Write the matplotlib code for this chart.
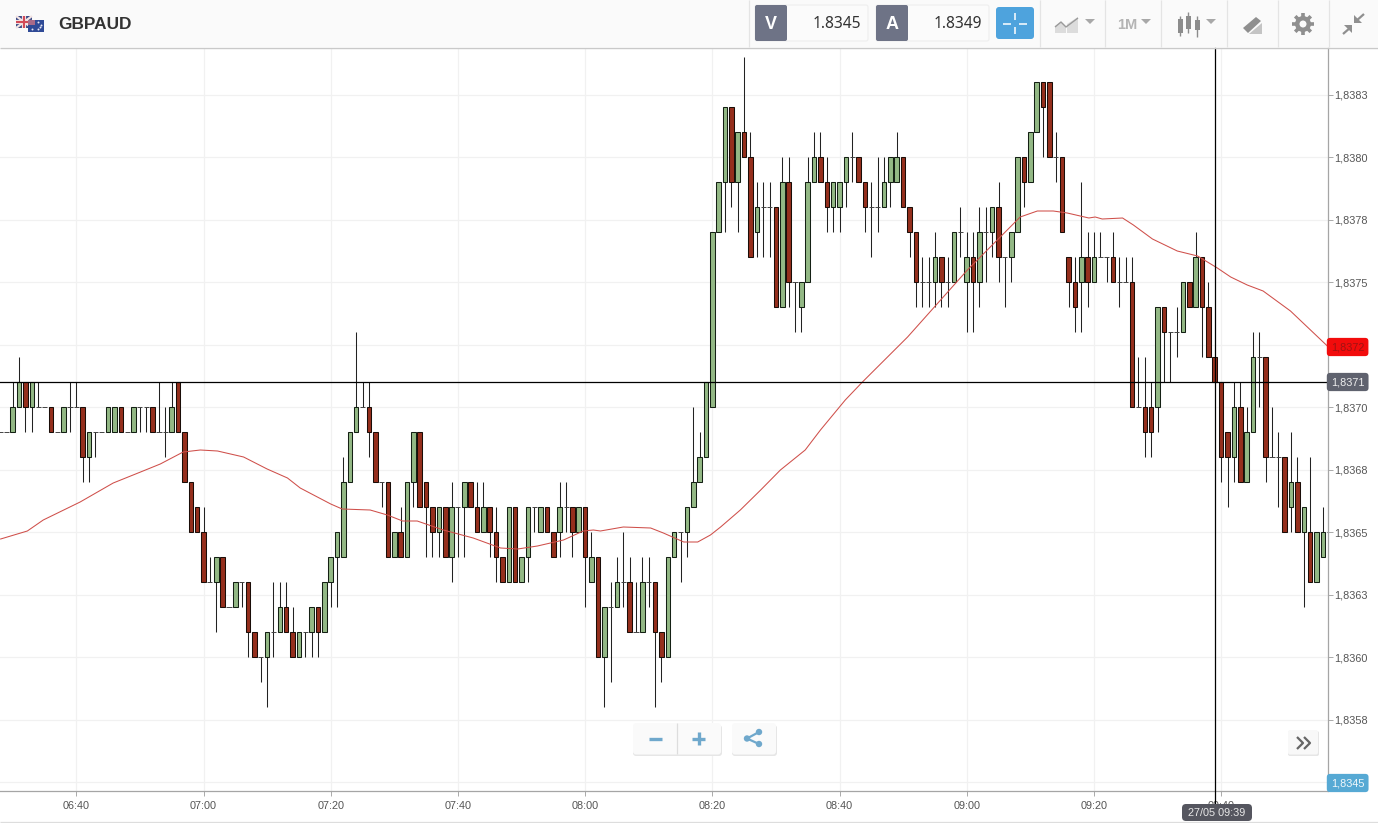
import numpy as np
import matplotlib
matplotlib.use('Agg')
import matplotlib.pyplot as plt
from matplotlib.patches import Rectangle, FancyBboxPatch, Circle, Polygon

# last two digits of the price (1.83xx), one candle per minute, first one at 06:28
first_minute = -2
opens = [69,69,69,70,71,70,70,70,70,69, 69,70,70,70,68,69,69,69,69,70,
         69,69,70,70,70,69,69,69,71,69, 67,66,65,63,63,64,62,62,63,63,
         61,60,60,61,61,62,61,60,61,61, 62,61,63,64,64,67,69,70,70,69,
         67,67,64,65,64,67,69,67,66,65, 66,64,66,66,67,66,65,66,65,64,
         63,66,63,64,66,65,66,65,65,66, 66,65,66,63,64,60,62,62,63,63,
         61,61,63,63,61,60,64,65,65,66, 67,68,70,77,79,82,79,81,80,77,
         78,78,78,74,79,75,74,75,79,80, 79,78,78,79,80,80,79,78,78,78,
         79,79,80,78,77,75,75,75,76,75, 75,77,75,76,75,77,77,78,76,76,
         77,80,79,81,83,83,80,80,76,75, 75,76,75,76,76,76,75,75,75,70,
         70,70,70,74,73,73,73,75,74,76, 74,72,71,69,68,70,67,69,72,72,
         68,68,68,66,67,65,65,63,64,65]
closes = [69,69,70,71,70,71,70,70,69,69, 70,70,70,68,69,69,69,70,70,69,
          69,70,70,70,69,69,69,70,69,67, 65,65,63,63,64,62,62,63,63,61,
          60,60,61,61,62,61,60,61,61,62, 61,63,64,65,67,69,70,70,69,67,
          67,64,65,64,67,69,66,66,65,66, 64,66,66,67,66,65,66,65,64,63,
          66,63,64,66,66,66,65,64,66,66, 65,66,64,64,60,62,62,63,63,61,
          61,63,63,61,60,64,65,65,66,67, 68,71,77,79,82,79,81,80,76,78,
          78,78,74,79,75,75,75,79,80,79, 78,79,79,80,80,79,78,78,78,79,
          80,80,78,77,75,75,75,76,75,75, 77,77,76,75,77,77,78,76,76,77,
          80,79,81,83,82,80,80,77,75,74, 76,75,76,76,76,75,75,75,70,70,
          69,69,74,73,73,73,75,74,76,74, 72,71,68,68,70,67,69,72,72,68,
          68,68,65,67,65,66,63,65,65,65]
highs = [69,69,71,72,71,71,71,70,70,69, 70,71,71,70,69,69,69,70,70,70,
         69,70,70,70,70,71,70,71,71,69, 67,66,66,64,64,64,62,63,63,63,
         61,60,61,63,63,63,62,61,61,62, 62,63,64,65,68,69,73,71,71,69,
         67,67,65,66,67,69,69,67,66,66, 66,67,66,67,67,67,67,66,66,64,
         66,66,64,66,66,66,66,65,67,67, 66,66,66,65,64,62,63,64,65,64,
         63,64,64,63,61,64,65,65,66,70, 69,71,77,79,82,82,81,84,81,79,
         79,79,78,80,80,75,75,80,81,81, 80,79,79,80,81,80,79,79,80,80,
         80,81,80,78,77,76,76,77,76,76, 77,78,77,77,78,78,78,79,76,77,
         80,80,81,83,83,83,81,80,76,76, 79,77,77,77,76,77,76,76,76,72,
         72,71,74,74,73,74,75,75,77,76, 75,72,71,69,71,71,70,73,73,72,
         70,69,68,69,68,66,68,65,66,66]
lows = [69,69,69,70,69,69,70,70,69,69, 69,69,70,67,67,68,69,69,69,69,
        69,69,69,69,69,69,68,69,69,67, 65,65,63,63,61,62,62,62,62,60,
        60,59,58,60,61,61,60,60,60,60, 60,61,62,62,64,67,69,70,68,67,
        66,64,64,64,64,66,66,64,64,64, 64,63,64,64,66,65,65,64,63,63,
        63,63,63,63,65,65,65,64,64,65, 64,65,62,63,60,58,59,62,62,61,
        61,61,62,58,59,60,64,63,64,66, 67,68,70,77,77,78,77,80,76,76,
        76,76,74,74,74,73,73,75,79,79, 77,77,77,78,79,79,77,76,77,78,
        78,79,78,76,74,74,74,74,74,74, 75,76,73,73,74,75,76,75,74,75,
        77,78,79,81,80,80,79,77,74,73, 73,74,75,76,75,75,74,75,70,70,
        68,68,69,71,71,72,73,74,74,72, 72,71,67,66,67,67,67,69,70,67,
        68,66,65,65,65,62,63,63,64,65]

# moving average, minutes after 06:30
ma_minutes = [-1.9,2.3,4.8,10.6,15.8,20.1,23.2,26.8,29.5,32.2,36.3,40.0,43.2,45.2,50.0,51.8,
              56.2,58.9,61.3,63.6,67.7,72.4,76.7,79.4,82.5,86.6,89.7,91.3,92.4,96.0,100.3,
              102.3,105.5,107.7,109.7,111.3,114.4,117.6,120.7,124.6,127.0,130.9,133.6,140.7,
              150.1,154.8,158.4,161.1,163.6,165.8,169.2,170.2,171.3,174.5,176.2,179.2,183.1,
              186.3,189.4,191.5,194.1,196.6,200.9,206.7]
ma_values = [64.72,65.04,65.48,66.2,66.96,67.4,67.72,68.2,68.28,68.24,68.0,67.52,67.16,66.76,66.12,65.92,
             65.88,65.68,65.44,65.44,65.08,64.76,64.36,64.32,64.44,64.68,65.04,65.08,65.04,65.2,65.16,
             64.96,64.6,64.6,64.88,65.2,65.88,66.68,67.48,68.28,69.08,70.28,71.0,72.8,
             75.48,76.68,77.6,77.84,77.84,77.76,77.56,77.6,77.52,77.56,77.28,76.72,76.24,
             76.04,75.56,75.2,74.88,74.64,73.84,72.44]

# 1,8355 and 1,8373 sit behind the price tags in the picture
y_ticks = [55,57.5,60,62.5,65,67.5,70,72.5,75,77.5,80,82.5]
y_labels = ['','1,8358','1,8360','1,8363','1,8365','1,8368','1,8370','','1,8375','1,8378','1,8380','1,8383']
x_ticks = [10,30,50,70,90,110,130,150,170,190]
x_labels = ['06:40','07:00','07:20','07:40','08:00','08:20','08:40','09:00','09:20','09:40']

cross_minute = 189
cross_price = 71
ma_tag = 72.4
bid_tag = 54.96

GREEN = '#93b885'
RED = '#952f1d'
EDGE = '#142014'
W, H = 1378, 823
UI = ['Noto Sans', 'DejaVu Sans']
BOLD = ['Liberation Sans', 'DejaVu Sans']
plt.rcParams['font.family'] = ['Liberation Sans', 'DejaVu Sans']

fig = plt.figure(figsize=(W / 100, H / 100), dpi=100, facecolor='white')
ax = fig.add_axes([0, (H - 791) / H, 1328 / W, (791 - 48) / H])

minutes = np.arange(len(opens)) + first_minute
o = np.array(opens, float)
c = np.array(closes, float)

ax.vlines(minutes, lows, highs, color='#222222', lw=0.75, zorder=2)
up = c > o
down = c < o
flat = c == o
ax.bar(minutes[up], (c - o)[up], bottom=o[up], width=0.72, color=GREEN, edgecolor=EDGE, lw=0.75, zorder=3)
ax.bar(minutes[down], (o - c)[down], bottom=c[down], width=0.72, color=RED, edgecolor='#1a0d08', lw=0.75, zorder=3)
ax.hlines(o[flat], minutes[flat] - 0.4, minutes[flat] + 0.4, color='#444444', lw=0.7, zorder=3)

ax.plot(ma_minutes, ma_values, color='#cf4f4a', lw=0.75, zorder=4)

ax.axhline(cross_price, color='black', lw=0.9, zorder=5)
ax.axvline(cross_minute, ymin=-0.02, ymax=1, color='black', lw=0.9, zorder=5, clip_on=False)

ax.set_xlim(-2.0, 206.8)
ax.set_ylim(54.64, 84.36)
ax.set_yticks(y_ticks)
ax.set_yticklabels(y_labels)
ax.set_xticks(x_ticks)
ax.set_xticklabels(x_labels)
ax.yaxis.tick_right()
ax.grid(True, color='#f1f1f1', lw=0.9)
ax.set_axisbelow(True)
ax.tick_params(axis='y', length=3.5, width=0.7, color='#aaaaaa', labelsize=7.8, labelcolor='#555555', pad=1)
ax.tick_params(axis='x', length=3.5, width=0.7, color='#aaaaaa', labelsize=7.8, labelcolor='#555555', pad=3.5)
for side in ['top', 'left']:
    ax.spines[side].set_visible(False)
for side in ['right', 'bottom']:
    ax.spines[side].set_color('#a5a5a5')
    ax.spines[side].set_linewidth(0.9)

# price tags on the axis
for price, text, face, fg in [(ma_tag, '1,8372', '#f20c0c', '#a01212'),
                              (cross_price, '1,8371', '#5f626e', '#eeeeee'),
                              (bid_tag, '1,8345', '#56a9d4', '#f2f8fb')]:
    ax.text(1.0022, price, text, transform=ax.get_yaxis_transform(), ha='left', va='center',
            fontsize=7.8, color=fg, zorder=10, clip_on=False,
            bbox=dict(boxstyle='round,pad=0.38,rounding_size=0.3', fc=face, ec='none'))

# toolbar and buttons, in pixels of the picture
ui = fig.add_axes([0, 0, 1, 1], zorder=5)
ui.set_xlim(0, W)
ui.set_ylim(H, 0)
ui.axis('off')
ui.patch.set_alpha(0)


def rect(x0, y0, x1, y1, fc, ec='none', lw=0.8, z=1):
    ui.add_patch(Rectangle((x0, y0), x1 - x0, y1 - y0, fc=fc, ec=ec, lw=lw, zorder=z))


def rbox(x0, y0, x1, y1, fc, ec='none', lw=0.8, r=2, z=2):
    ui.add_patch(FancyBboxPatch((x0 + r, y0 + r), x1 - x0 - 2 * r, y1 - y0 - 2 * r,
                                boxstyle='round,pad=%g,rounding_size=%g' % (r, r),
                                fc=fc, ec=ec, lw=lw, zorder=z))


def line(xs, ys, color, lw=1.0, z=3):
    ui.plot(xs, ys, color=color, lw=lw, zorder=z, solid_capstyle='butt')


rect(0, 0, W, 47, '#fafafa')
line([0, W], [47.5, 47.5], '#c9c9c9', 1.0)
line([0, W], [822, 822], '#dddddd', 0.9)
for sx in [749, 1040, 1105, 1161, 1227, 1278, 1329]:
    line([sx, sx], [0, 47], '#e4e4e4', 0.9)

# flags
rect(16, 16, 32, 28, '#3b4a86', z=2)
line([16, 32], [16, 28], '#f2e4e4', 1.6, z=3)
line([16, 32], [28, 16], '#f2e4e4', 1.6, z=3)
line([24, 24], [16, 28], '#f2e4e4', 3.0, z=3)
line([16, 32], [22, 22], '#f2e4e4', 3.0, z=3)
line([24, 24], [16, 28], '#d24a58', 1.5, z=4)
line([16, 32], [22, 22], '#d24a58', 1.5, z=4)
rect(28, 20, 44, 32, '#2f4a96', z=5)
rect(28, 20, 35, 25, '#a86a88', z=6)
ui.scatter([32, 38, 41, 38, 40], [29, 22, 25, 29, 27], s=2, color='#e8e8f4', zorder=7, lw=0)

ui.text(58, 24.5, 'GBPAUD', family=BOLD, weight='bold', fontsize=12.4, color='#333333', va='center', ha='left', zorder=5)

# bid / ask
for x0, letter, value in [(755, 'V', '1.8345'), (876, 'A', '1.8349')]:
    rbox(x0, 5, x0 + 113, 41, '#fbfbfb', '#eeeeee')
    rbox(x0, 5, x0 + 32, 41, '#6e7386')
    ui.text(x0 + 16, 24, letter, family=BOLD, weight='bold', fontsize=13, color='white', ha='center', va='center', zorder=5)
    ui.text(x0 + 106, 24, value, family=UI, fontsize=11.2, color='#333333', ha='right', va='center', zorder=5)

# crosshair button
rbox(996, 7, 1034, 39, '#4ea3dd', r=3)
line([1015, 1015], [13, 20], 'white', 1.1)
line([1015, 1015], [27, 34], 'white', 1.1)
line([1003, 1011], [24, 24], 'white', 1.1)
line([1019, 1027], [24, 24], 'white', 1.1)

# area chart icon
ui.add_patch(Polygon([(1055, 33), (1055, 26), (1061, 22), (1066, 27), (1066, 33)], fc='#dcdcdc', ec='none', zorder=3))
ui.add_patch(Polygon([(1067, 33), (1067, 24), (1078, 17), (1078, 33)], fc='#dcdcdc', ec='none', zorder=3))
line([1055, 1061, 1066, 1078], [27, 22, 27, 18], '#9a9a9a', 1.0, z=4)
for cx in [1090, 1146, 1211]:
    ui.add_patch(Polygon([(cx - 5, 19), (cx + 5, 19), (cx, 24)], fc='#a8a8a8', ec='none', zorder=3))
ui.text(1127, 24.5, '1M', family=BOLD, weight='bold', fontsize=10.5, color='#b4b4b4', ha='center', va='center', zorder=5)

# candles icon
for cx, y0, y1, w0, w1 in [(1180, 19, 33, 16, 36), (1188, 16, 29, 12, 33), (1197, 20, 30, 16, 37)]:
    line([cx, cx], [w0, w1], '#8c8c8c', 1.0)
    rect(cx - 2.5, y0, cx + 2.5, y1, '#8c8c8c', z=3)

# pencil icon
ui.add_patch(Polygon([(1243, 28), (1256, 17), (1261, 21), (1248, 33)], fc='#8f8f8f', ec='none', zorder=3))
ui.add_patch(Polygon([(1249, 34), (1262, 23), (1262, 34)], fc='#c4c4c4', ec='none', zorder=3))

# gear
for a in np.arange(0, 360, 45):
    dx, dy = np.cos(np.radians(a)), np.sin(np.radians(a))
    line([1303 + 6 * dx, 1303 + 11 * dx], [24 + 6 * dy, 24 + 11 * dy], '#8f8f8f', 2.6)
ui.add_patch(Circle((1303, 24), 8, fc='#8f8f8f', ec='none', zorder=4))
ui.add_patch(Circle((1303, 24), 3.5, fc='#fafafa', ec='none', zorder=5))

# compress arrows
line([1343, 1351], [34, 27], '#8f8f8f', 1.6)
ui.add_patch(Polygon([(1344, 25), (1352, 25), (1352, 33)], fc='#8f8f8f', ec='none', zorder=3))
line([1355, 1364], [22, 14], '#8f8f8f', 1.6)
ui.add_patch(Polygon([(1354, 15), (1354, 23), (1362, 23)], fc='#8f8f8f', ec='none', zorder=3))

# zoom and share buttons
rbox(633, 725, 722, 756, '#e6e6e6', r=3)
rbox(633, 723, 721, 754.5, '#fafafa', r=3, z=3)
line([676.5, 676.5], [723, 754], '#dddddd', 0.9, z=4)
line([649, 662], [738.5, 738.5], '#6fa8cc', 2.4, z=4)
line([692, 705], [738.5, 738.5], '#6fa8cc', 2.4, z=4)
line([698.5, 698.5], [732, 745], '#6fa8cc', 2.4, z=4)
rbox(732, 725, 777, 756, '#e6e6e6', r=3)
rbox(732, 723, 776, 754.5, '#fafafa', r=3, z=3)
line([759, 747, 759], [732, 738.5, 744], '#6fa8cc', 1.6, z=4)
for cx, cy in [(747, 738.5), (759, 732), (759, 744)]:
    ui.add_patch(Circle((cx, cy), 3.2, fc='#6fa8cc', ec='none', zorder=5))

rbox(1288, 731, 1319, 756, '#e6e6e6', r=2)
rbox(1288, 730, 1318, 754.5, '#f8f8f8', r=2, z=3)
line([1297, 1303, 1297], [737, 743, 749], '#666666', 1.6, z=4)
line([1304, 1310, 1304], [737, 743, 749], '#666666', 1.6, z=4)

# date tag under the crosshair
rbox(1182, 804, 1252, 821, '#55565f', r=4, z=6)
ui.text(1217, 812.5, '27/05 09:39', fontsize=7.8, color='#e8e8e8', ha='center', va='center', zorder=7)

fig.savefig('out.png', dpi=100)
